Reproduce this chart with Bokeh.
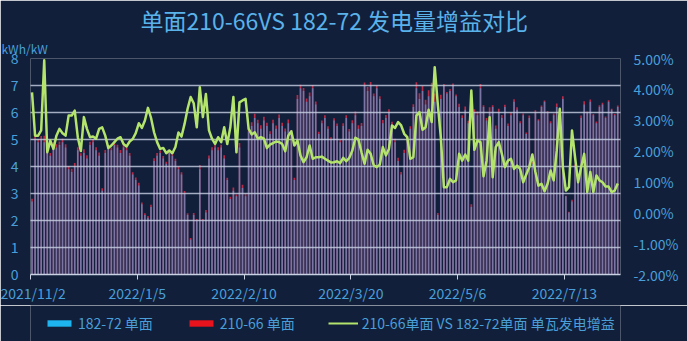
from bokeh.plotting import figure
from bokeh.layouts import column
from bokeh.models import (Range1d, LinearAxis, FixedTicker, Legend, LegendItem, Title,
                          ColumnDataSource, PrintfTickFormatter)
from bokeh.transform import dodge
from bokeh.embed import file_html
from bokeh.resources import INLINE

# ---------------- data ----------------
title_text = "单面210-66VS 182-72 发电量增益对比"
unit_text = "kWh/kW"
series_names = ["182-72 单面", "210-66 单面", "210-66单面 VS 182-72单面 单瓦发电增益"]
tick_positions = [0, 35, 70, 105, 140, 175]
tick_labels = ["2021/11/2", "2022/1/5", "2022/2/10", "2022/3/20", "2022/5/6", "2022/7/13"]

# kWh/kW per day, 182-72 single-sided
yield_182 = [
    2.7, 5.0, 4.9, 5.0, 4.9, 4.5, 4.4, 4.8, 4.7, 4.8, 4.9, 4.7, 3.9, 3.8, 4.0, 4.6, 4.4, 4.5, 4.3, 4.8,
    4.9, 4.6, 4.4, 3.1, 4.5, 4.7, 4.6, 4.8, 4.7, 4.5, 4.7, 4.6, 4.4, 3.7, 3.5, 3.3, 2.6, 2.2, 2.1, 2.5,
    4.2, 4.4, 4.5, 4.3, 4.1, 4.5, 4.4, 4.2, 3.9, 3.7, 3.0, 2.2, 1.3, 2.2, 2.0, 3.9, 2.0, 2.3, 4.3, 4.6,
    4.7, 4.6, 4.7, 4.3, 3.5, 2.8, 3.1, 2.9, 4.7, 3.2, 2.9, 5.3, 5.5, 5.8, 5.6, 5.4, 5.7, 5.5, 5.2, 5.6,
    5.4, 5.8, 5.5, 5.3, 5.6, 5.2, 3.5, 6.5, 6.9, 6.8, 6.4, 6.6, 6.9, 6.3, 5.2, 5.6, 5.8, 5.4, 5.0, 5.7,
    5.5, 4.9, 5.5, 5.8, 5.3, 5.6, 5.9, 5.4, 5.5, 7.0, 6.8, 7.0, 6.6, 6.9, 6.5, 5.6, 5.8, 6.0, 5.5, 4.9,
    4.2, 3.7, 4.5, 5.0, 5.4, 6.2, 6.9, 6.5, 6.8, 6.3, 6.6, 6.9, 6.4, 2.2, 6.5, 7.0, 6.7, 6.8, 7.0, 6.6,
    6.2, 5.8, 6.1, 5.6, 2.5, 6.0, 5.9, 6.9, 6.2, 5.7, 6.0, 6.2, 5.4, 6.0, 5.8, 6.2, 5.5, 5.9, 6.4, 6.1,
    5.6, 5.9, 5.2, 5.8, 4.1, 6.0, 5.7, 6.2, 6.4, 6.0, 5.6, 5.9, 6.2, 5.8, 6.5, 2.9, 2.3, 2.7, 4.0, 3.6,
    5.8, 6.3, 6.0, 6.4, 5.9, 5.6, 6.2, 6.3, 5.8, 6.4, 6.1, 5.9, 6.2,
]
# kWh/kW per day, 210-66 single-sided
yield_210 = [
    2.81, 5.13, 5.02, 5.13, 5.14, 4.59, 4.50, 4.90, 4.82, 4.93, 5.03, 4.82, 4.02, 3.92, 4.13, 4.71, 4.49, 4.64, 4.42, 4.92,
    5.02, 4.71, 4.52, 3.19, 4.61, 4.80, 4.70, 4.91, 4.81, 4.61, 4.80, 4.70, 4.50, 3.79, 3.59, 3.40, 2.67, 2.27, 2.17, 2.58,
    4.31, 4.50, 4.59, 4.39, 4.18, 4.59, 4.48, 4.29, 4.00, 3.79, 3.09, 2.27, 1.35, 2.28, 2.06, 4.06, 2.06, 2.39, 4.41, 4.71,
    4.80, 4.71, 4.81, 4.42, 3.58, 2.88, 3.22, 2.96, 4.87, 3.32, 3.01, 5.44, 5.64, 5.95, 5.73, 5.53, 5.84, 5.62, 5.31, 5.73,
    5.52, 5.93, 5.62, 5.41, 5.74, 5.34, 3.58, 6.65, 7.03, 6.91, 6.52, 6.74, 7.02, 6.41, 5.29, 5.70, 5.90, 5.49, 5.08, 5.79,
    5.59, 4.98, 5.60, 5.90, 5.39, 5.71, 6.04, 5.53, 5.61, 7.11, 6.94, 7.13, 6.70, 7.00, 6.60, 5.72, 5.91, 6.12, 5.66, 5.03,
    4.32, 3.80, 4.62, 5.12, 5.49, 6.31, 7.12, 6.71, 6.98, 6.47, 6.82, 7.10, 6.70, 2.28, 6.66, 7.06, 6.76, 6.87, 7.07, 6.67,
    6.32, 5.90, 6.22, 5.69, 2.60, 6.12, 6.04, 7.06, 6.27, 5.80, 6.19, 6.27, 5.52, 6.14, 5.91, 6.29, 5.59, 6.00, 6.49, 6.19,
    5.68, 5.96, 5.26, 5.89, 4.18, 6.08, 5.75, 6.26, 6.44, 6.06, 5.68, 5.96, 6.33, 6.00, 6.60, 2.92, 2.32, 2.77, 4.07, 3.64,
    5.89, 6.42, 6.04, 6.48, 5.94, 5.67, 6.27, 6.36, 5.85, 6.45, 6.14, 5.94, 6.26,
]
# gain per watt, %
gain_pct = [
    3.90, 2.50, 2.50, 2.67, 4.94, 1.96, 2.34, 2.07, 2.50, 2.72, 2.58, 2.50, 3.15, 3.15, 3.31, 2.45, 2.00, 3.10, 2.72, 2.45,
    2.47, 2.40, 2.72, 2.77, 2.50, 2.10, 2.18, 2.29, 2.40, 2.45, 2.23, 2.15, 2.31, 2.39, 2.58, 2.90, 2.75, 2.99, 3.40, 3.08,
    2.61, 2.29, 2.07, 2.10, 1.93, 2.02, 1.93, 2.13, 2.60, 2.47, 2.88, 3.37, 3.75, 3.55, 2.77, 4.07, 3.10, 3.85, 2.67, 2.40,
    2.23, 2.45, 2.29, 2.77, 2.23, 2.77, 3.75, 1.96, 3.58, 3.64, 3.69, 2.72, 2.54, 2.61, 2.40, 2.45, 2.40, 2.10, 2.21, 2.26,
    2.31, 2.29, 2.23, 1.99, 2.50, 2.64, 2.18, 2.34, 1.86, 1.64, 1.80, 2.18, 1.75, 1.80, 1.80, 1.82, 1.75, 1.69, 1.63, 1.64,
    1.67, 1.61, 1.78, 1.67, 1.78, 2.02, 2.43, 2.37, 1.96, 1.59, 2.04, 1.91, 1.54, 1.48, 1.56, 2.13, 1.86, 2.07, 2.83, 2.75,
    2.94, 2.83, 2.56, 2.45, 1.75, 1.80, 3.15, 3.26, 2.69, 2.77, 3.34, 2.94, 4.72, 3.53, 2.45, 0.83, 0.83, 1.10, 0.99, 1.05,
    1.91, 1.69, 1.89, 1.69, 3.96, 2.04, 2.34, 2.29, 1.18, 1.69, 3.10, 1.15, 2.13, 2.29, 1.91, 1.48, 1.69, 1.75, 1.42, 1.53,
    1.42, 0.99, 1.24, 1.48, 1.89, 1.32, 0.88, 0.94, 0.70, 0.94, 1.37, 1.05, 2.02, 3.37, 1.48, 0.72, 0.83, 2.67, 1.80, 0.99,
    1.48, 1.91, 0.67, 1.32, 0.67, 1.21, 1.05, 0.99, 0.85, 0.85, 0.67, 0.72, 0.95,
]
day_index = list(range(len(yield_182)))

# ---------------- styling ----------------
FONT = "Noto Sans CJK SC"
BG = "#111f3b"
TXT = "#4a9fd8"
GRID = "#c9d1e3"
LINE_C = "#b4e46c"
NAN = float("nan")

src = ColumnDataSource(dict(idx=day_index, b182=yield_182, b210=yield_210, gain=gain_pct))

main_title = Title(text=title_text, align="left", offset=110, standoff=0,
                   text_font=FONT, text_font_size="23px", text_font_style="normal",
                   text_color="#5ab2ea")

p = figure(width=687, height=305, output_backend="svg", toolbar_location=None,
           title=main_title,
           x_range=Range1d(0, 193.4), y_range=Range1d(0, 8),
           min_border_left=30, min_border_right=67, min_border_top=0, min_border_bottom=27,
           background_fill_color=BG, border_fill_color=BG, outline_line_color=None)
p.extra_y_ranges = {"pct": Range1d(-2, 5)}

unit_title = Title(text=unit_text, align="left", offset=-29, standoff=3,
                   text_font=FONT, text_font_size="12px", text_font_style="normal",
                   text_color=TXT)
p.add_layout(unit_title, "above")

# left axis
p.yaxis.ticker = FixedTicker(ticks=list(range(0, 9)))
p.yaxis.axis_line_color = None
p.yaxis.major_tick_line_color = None
p.yaxis.major_tick_out = 0
p.yaxis.minor_tick_line_color = None
p.yaxis.major_label_text_color = TXT
p.yaxis.major_label_text_font = FONT
p.yaxis.major_label_text_font_size = "14px"
p.yaxis.major_label_standoff = 12

# bottom axis
p.xaxis.ticker = FixedTicker(ticks=tick_positions)
p.xaxis.major_label_overrides = {t: l for t, l in zip(tick_positions, tick_labels)}
p.xaxis.axis_line_color = GRID
p.xaxis.axis_line_width = 1.5
p.xaxis.major_tick_line_color = GRID
p.xaxis.major_tick_out = 5
p.xaxis.major_tick_in = 0
p.xaxis.minor_tick_line_color = None
p.xaxis.major_label_text_color = TXT
p.xaxis.major_label_text_font = FONT
p.xaxis.major_label_text_font_size = "14px"
p.xaxis.major_label_standoff = 3

# right axis
ax_r = LinearAxis(y_range_name="pct", ticker=FixedTicker(ticks=list(range(-2, 6))),
                  formatter=PrintfTickFormatter(format="%.2f%%"))
ax_r.axis_line_color = None
ax_r.major_tick_line_color = None
ax_r.major_tick_out = 0
ax_r.minor_tick_line_color = None
ax_r.major_label_text_color = TXT
ax_r.major_label_text_font = FONT
ax_r.major_label_text_font_size = "14px"
ax_r.major_label_standoff = 13
p.add_layout(ax_r, "right")

p.xgrid.grid_line_color = None
p.ygrid.grid_line_color = GRID
p.ygrid.grid_line_width = 1.5
p.ygrid.grid_line_alpha = 0.8
p.ygrid.level = "guide"

xpos = dodge("idx", 0.5, range=p.x_range)
p.vbar(x=xpos, top="b210", width=0.55, source=src,
       fill_color="#ff3050", fill_alpha=0.7, line_color=None)
p.vbar(x=xpos, top="b182", width=0.55, source=src,
       fill_color="#3cc0ff", fill_alpha=0.5, line_color=None)
p.line(x=xpos, y="gain", source=src, y_range_name="pct", level="overlay",
       line_color=LINE_C, line_width=2.5, line_join="round")

# ---------------- legend strip ----------------
lg = figure(width=687, height=36, output_backend="svg", toolbar_location=None,
            x_axis_type=None, y_axis_type=None,
            x_range=Range1d(0, 1), y_range=Range1d(0, 1), min_border=0,
            background_fill_color=BG, border_fill_color=BG, outline_line_color=None)
lg.grid.visible = False
d1 = lg.vbar(x=[NAN], top=[NAN], width=1, fill_color="#1eb4f0", line_color=None)
d2 = lg.vbar(x=[NAN], top=[NAN], width=1, fill_color="#e8131c", line_color=None)
d3 = lg.line(x=[NAN], y=[NAN], line_color=LINE_C, line_width=2)
legend = Legend(items=[LegendItem(label=series_names[0], renderers=[d1]),
                       LegendItem(label=series_names[1], renderers=[d2]),
                       LegendItem(label=series_names[2], renderers=[d3])],
                location=(14, 8), orientation="horizontal",
                background_fill_alpha=0, border_line_color=None,
                label_text_color=TXT, label_text_font=FONT, label_text_font_size="14px",
                glyph_width=30, glyph_height=8, label_height=16, label_standoff=4,
                spacing=33, padding=0, margin=0)
lg.add_layout(legend)

layout = column(p, lg, spacing=0)
open("out.html", "w").write(file_html(layout, INLINE))
